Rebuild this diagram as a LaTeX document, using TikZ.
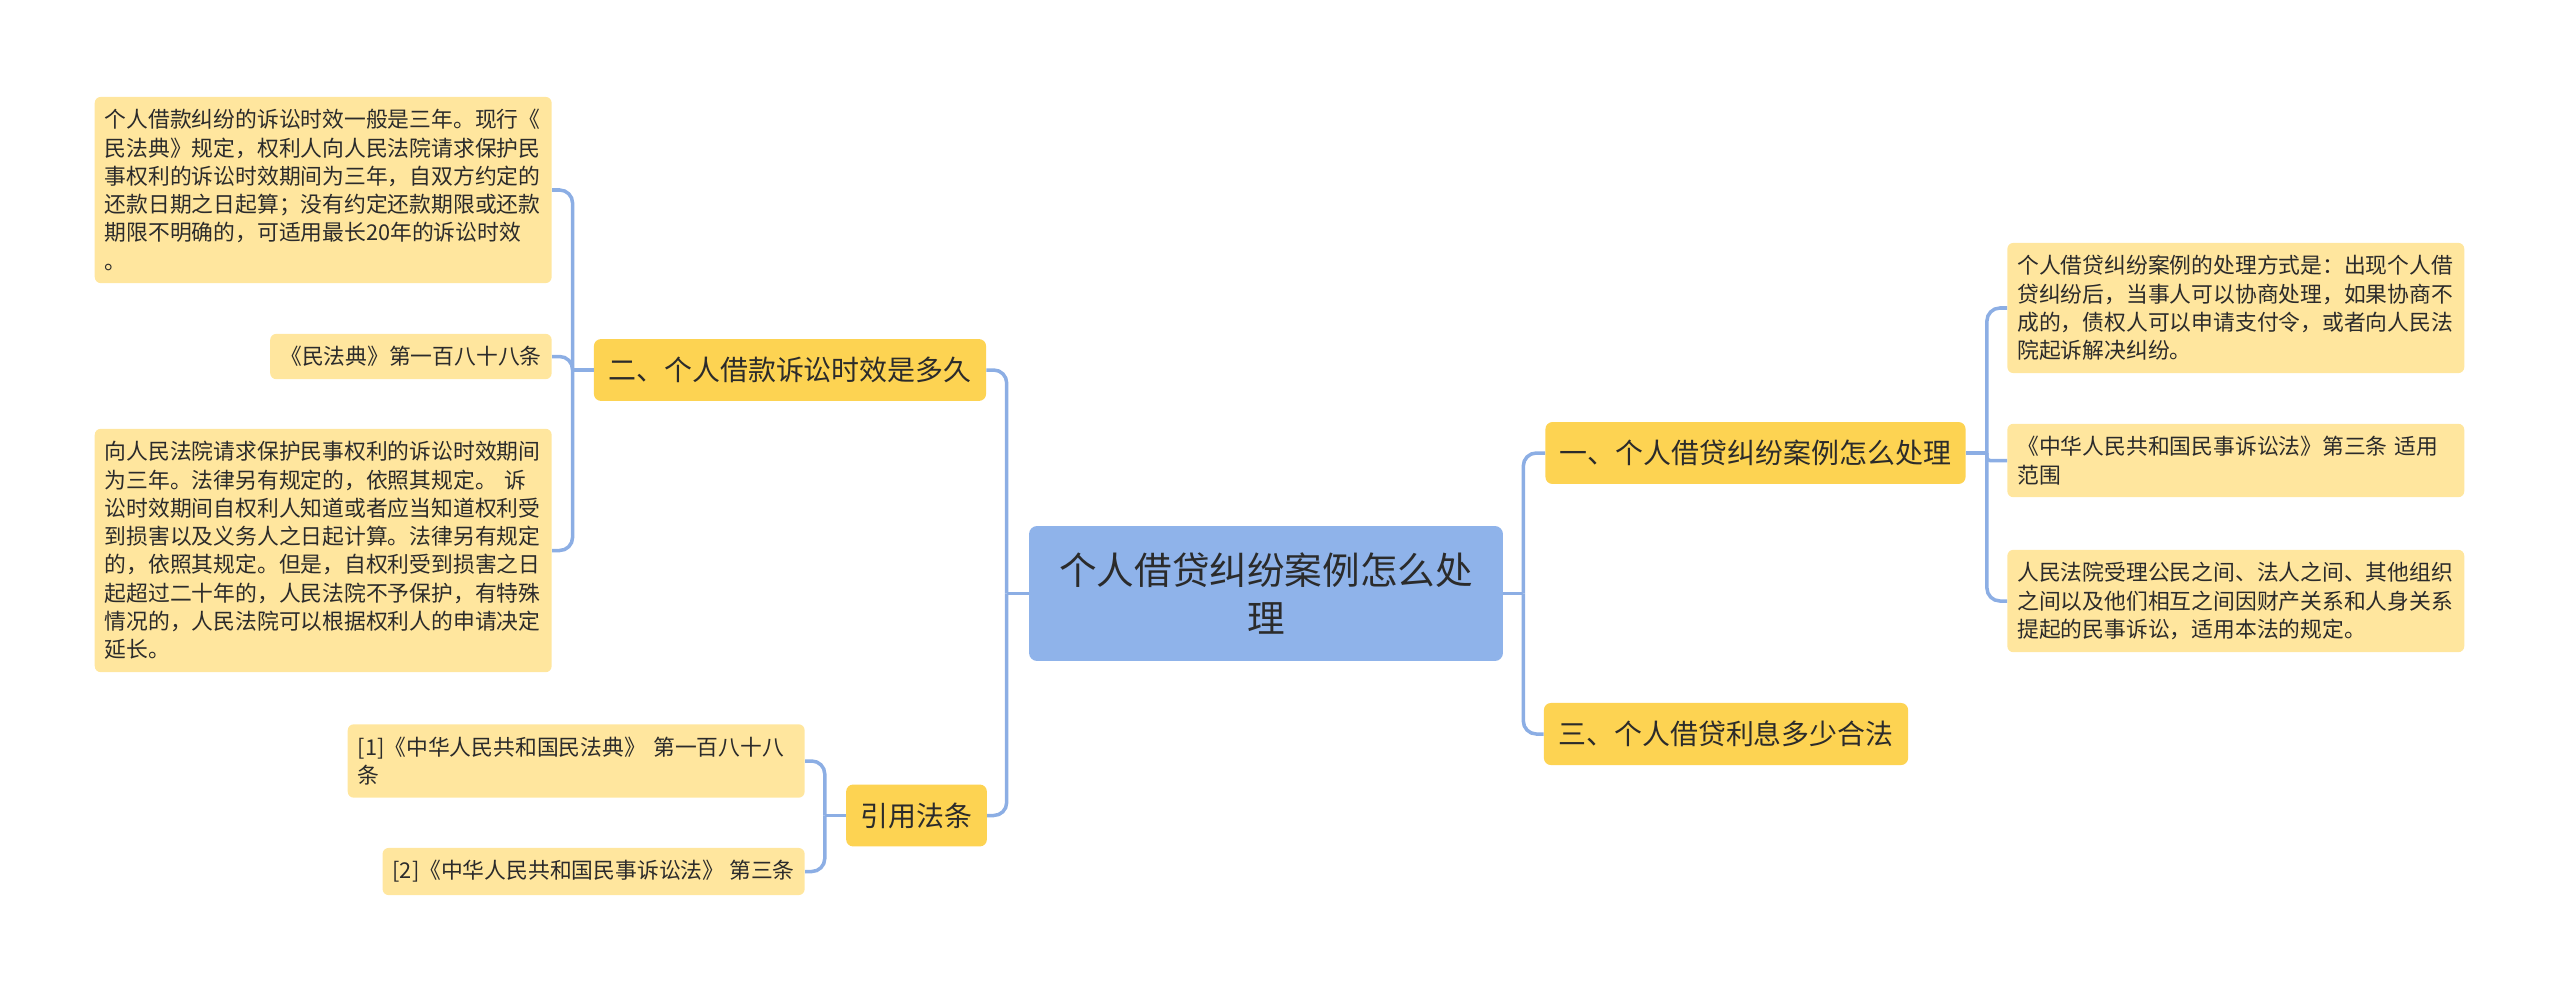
\documentclass[tikz,border=0pt]{standalone}
\usepackage{fontspec}
\setmainfont{Noto Sans CJK SC}
\usepackage{tikz}
\usetikzlibrary{positioning, calc}
\usepackage{xcolor}
\definecolor{mapblue}{HTML}{8FB3EA}
\definecolor{mapline}{HTML}{8CAEE4}
\definecolor{mapgold}{HTML}{FDD352}
\definecolor{mapcream}{HTML}{FFE69E}
\definecolor{maptext}{HTML}{2B2B2B}

\begin{document}
\begin{tikzpicture}[
    x=0.02cm, y=-0.02cm,
    hubbox/.style={fill=mapblue, rounded corners=0.16cm, minimum width=9.48cm,
                   minimum height=2.7cm, align=center, text=maptext,
                   font=\fontsize{21.4pt}{27.3pt}\selectfont},
    topicbox/.style={fill=mapgold, rounded corners=0.14cm, inner xsep=0.29cm,
                     inner ysep=0.36cm, text=maptext,
                     font=\fontsize{15.9pt}{20pt}\selectfont},
    leafbox/.style={fill=mapcream, rounded corners=0.12cm, inner xsep=0.2cm,
                    inner ysep=0.25cm, align=left, text=maptext,
                    font=\fontsize{12.4pt}{16.1pt}\selectfont},
    wrapbox/.style={leafbox, text width=8.74cm},
    link/.style={draw=mapline, line width=2pt, rounded corners=0.26cm}
  ]
    \useasboundingbox (0,0) rectangle (2560,991);

    \node[hubbox] (hub) at (1266,593.5) {个人借贷纠纷案例怎么处\\理};

    \node[topicbox] (dur) at (790,370) {二、个人借款诉讼时效是多久};
    \node[topicbox] (cite) at (916.5,815.5) {引用法条};
    \node[topicbox] (deal) at (1755.5,453) {一、个人借贷纠纷案例怎么处理};
    \node[topicbox] (rate) at (1726,734) {三、个人借贷利息多少合法};

    \node[wrapbox, anchor=east] (durA) at (552,190) {个人借款纠纷的诉讼时效一般是三年。现行《\\
      民法典》规定，权利人向人民法院请求保护民\\
      事权利的诉讼时效期间为三年，自双方约定的\\
      还款日期之日起算；没有约定还款期限或还款\\
      期限不明确的，可适用最长20年的诉讼时效\\
      。};
    \node[leafbox, anchor=east] (durB) at (552,356.5) {《民法典》第一百八十八条};
    \node[wrapbox, anchor=east] (durC) at (552,550.5) {向人民法院请求保护民事权利的诉讼时效期间\\
      为三年。法律另有规定的，依照其规定。 诉\\
      讼时效期间自权利人知道或者应当知道权利受\\
      到损害以及义务人之日起计算。法律另有规定\\
      的，依照其规定。但是，自权利受到损害之日\\
      起超过二十年的，人民法院不予保护，有特殊\\
      情况的，人民法院可以根据权利人的申请决定\\
      延长。};
    \node[wrapbox, anchor=east] (citeA) at (805,761) {[1]《中华人民共和国民法典》 第一百八十八\\
      条};
    \node[leafbox, anchor=east] (citeB) at (805,871.5) {[2]《中华人民共和国民事诉讼法》 第三条};

    \node[wrapbox, anchor=west] (dealA) at (2007,308) {个人借贷纠纷案例的处理方式是：出现个人借\\
      贷纠纷后，当事人可以协商处理，如果协商不\\
      成的，债权人可以申请支付令，或者向人民法\\
      院起诉解决纠纷。};
    \node[wrapbox, anchor=west] (dealB) at (2007,460.5) {《中华人民共和国民事诉讼法》第三条 适用\\
      范围};
    \node[wrapbox, anchor=west] (dealC) at (2007,601) {人民法院受理公民之间、法人之间、其他组织\\
      之间以及他们相互之间因财产关系和人身关系\\
      提起的民事诉讼，适用本法的规定。};

    \path (hub.west) ++(-22,0) coordinate (hubL);
    \path (hub.east) ++(20,0) coordinate (hubR);
    \path (dur.west) ++(-21,0) coordinate (durL);
    \path (cite.west) ++(-21,0) coordinate (citeL);
    \path (deal.east) ++(21,0) coordinate (dealR);

    \draw[link] (hub.west) -- (hubL);
    \draw[link] (hubL) |- (dur.east);
    \draw[link] (hubL) |- (cite.east);
    \draw[link] (hub.east) -- (hubR);
    \draw[link] (hubR) |- (deal.west);
    \draw[link] (hubR) |- (rate.west);

    \draw[link] (dur.west) -- (durL);
    \draw[link] (durL) |- (durA.east);
    \draw[link] (durL) |- (durB.east);
    \draw[link] (durL) |- (durC.east);

    \draw[link] (cite.west) -- (citeL);
    \draw[link] (citeL) |- (citeA.east);
    \draw[link] (citeL) |- (citeB.east);

    \draw[link] (deal.east) -- (dealR);
    \draw[link] (dealR) |- (dealA.west);
    \draw[link, rounded corners=0.06cm] (dealR) |- (dealB.west);
    \draw[link] (dealR) |- (dealC.west);
  \end{tikzpicture}
\end{document}
